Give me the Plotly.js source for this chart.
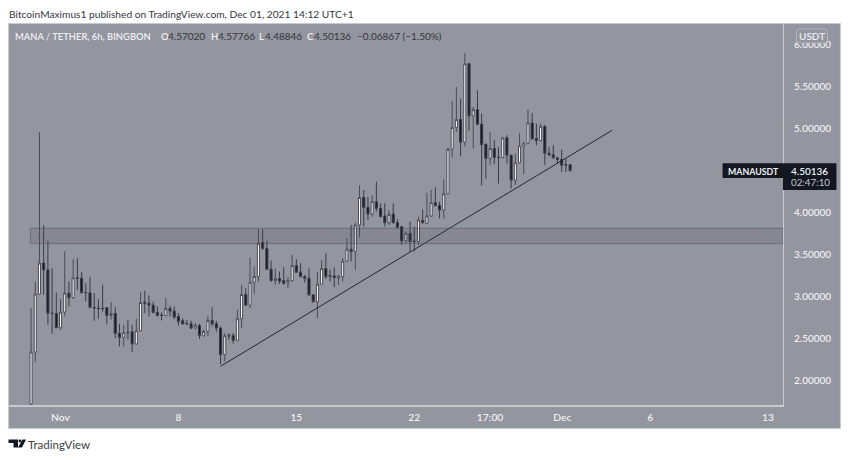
<!DOCTYPE html>
<html>
<head>
<meta charset="utf-8">
<script src="https://cdn.plot.ly/plotly-3.0.1.min.js"></script>
<style>html,body{margin:0;padding:0;background:#fff;overflow:hidden}#chart{width:850px;height:460px}</style>
</head>
<body>
<div id="chart"></div>
<script>
const opens = [1.72,2.34,3.03,3.40,3.318,2.803,2.80,2.629,2.815,3.041,2.985,3.223,3.219,3.049,3.045,2.870,2.863,2.859,2.867,2.775,2.799,2.562,2.514,2.574,2.582,2.435,2.593,2.934,2.922,2.898,2.811,2.780,2.775,2.859,2.827,2.764,2.712,2.680,2.676,2.625,2.657,2.538,2.585,2.716,2.676,2.625,2.308,2.538,2.534,2.479,2.736,3.025,2.898,3.171,3.239,3.643,3.571,3.326,3.191,3.215,3.191,3.160,3.191,3.369,3.290,3.239,3.219,3.021,2.938,3.148,3.334,3.251,3.247,3.219,3.239,3.421,3.564,3.536,3.853,4.181,4.062,3.983,4.130,4.051,3.960,3.880,3.983,3.880,3.833,3.663,3.754,3.663,3.655,3.908,3.872,3.959,4.118,4.086,4.030,4.224,4.755,5.012,5.108,4.838,5.773,5.151,5.226,5.052,4.814,4.644,4.763,4.660,4.656,4.890,4.684,4.387,4.593,4.791,4.826,5.068,4.882,4.858,5.028,4.708,4.688,4.652,4.632,4.569,4.57020];
const highs = [2.863,3.18,4.957,3.849,3.666,3.338,3.049,2.970,3.540,3.183,3.445,3.457,3.294,3.160,3.231,3.041,2.970,3.140,2.875,2.934,2.875,2.677,2.665,2.724,2.665,2.736,3.049,3.069,3.013,2.942,2.882,2.811,2.985,2.890,2.882,2.803,2.744,2.724,2.712,2.684,2.676,2.605,2.764,2.875,2.712,2.645,2.566,2.566,2.566,2.843,3.140,3.100,3.465,3.358,3.801,3.801,3.666,3.429,3.338,3.298,3.350,3.231,3.496,3.445,3.397,3.259,3.338,3.029,3.298,3.437,3.516,3.318,3.350,3.259,3.457,3.694,3.853,3.880,4.328,4.268,4.189,4.209,4.367,4.110,4.110,4.031,4.110,3.920,3.841,3.773,3.892,3.833,3.952,4.038,4.236,4.268,4.300,4.129,4.395,4.775,5.329,5.496,5.357,5.900,5.781,5.258,5.456,5.179,4.822,4.961,4.870,4.783,4.902,4.921,4.684,4.704,4.949,4.842,5.227,5.187,5.060,5.060,5.040,4.783,4.803,4.664,4.751,4.644,4.57766];
const lows = [1.60,2.22,3.021,3.021,2.665,2.558,2.625,2.605,2.764,2.882,2.977,3.080,3.033,2.942,2.863,2.712,2.736,2.823,2.676,2.724,2.506,2.407,2.407,2.487,2.340,2.427,2.585,2.803,2.764,2.803,2.764,2.716,2.764,2.764,2.732,2.657,2.665,2.665,2.613,2.613,2.494,2.518,2.526,2.645,2.58,2.197,2.229,2.486,2.439,2.467,2.625,2.890,2.863,3.033,3.179,3.556,3.318,3.179,3.140,3.152,3.140,3.100,3.183,3.286,3.231,3.168,3.009,2.930,2.744,3.140,3.207,3.179,3.112,3.140,3.179,3.413,3.417,3.318,3.706,3.833,3.912,3.952,4.011,3.944,3.833,3.853,3.872,3.813,3.615,3.643,3.536,3.536,3.615,3.872,3.864,3.951,4.082,3.931,3.931,4.217,4.656,4.961,4.672,4.791,4.973,4.763,5.040,4.323,4.403,4.565,4.577,4.347,4.644,4.585,4.288,4.327,4.585,4.458,4.814,4.870,4.803,4.850,4.565,4.672,4.644,4.585,4.486,4.486,4.48846];
const closes = [2.34,3.03,3.40,3.318,2.803,2.80,2.629,2.815,3.041,2.985,3.223,3.219,3.049,3.045,2.870,2.863,2.859,2.857,2.775,2.799,2.562,2.514,2.570,2.570,2.435,2.593,2.930,2.922,2.898,2.811,2.775,2.776,2.859,2.827,2.756,2.704,2.676,2.676,2.625,2.657,2.538,2.585,2.716,2.676,2.625,2.308,2.534,2.530,2.479,2.736,3.025,2.898,3.171,3.239,3.635,3.575,3.326,3.191,3.215,3.183,3.160,3.191,3.369,3.290,3.239,3.215,3.021,2.938,3.148,3.334,3.239,3.239,3.227,3.243,3.421,3.564,3.536,3.853,4.181,4.062,3.983,4.130,4.051,3.952,3.880,3.979,3.880,3.825,3.663,3.754,3.655,3.655,3.912,3.880,3.959,4.118,4.082,4.030,4.224,4.755,5.012,5.108,4.838,5.773,5.151,5.226,5.052,4.810,4.644,4.763,4.656,4.656,4.890,4.684,4.387,4.593,4.795,4.826,5.068,4.878,4.858,5.028,4.708,4.688,4.652,4.632,4.565,4.565,4.50136];

const firstBar = Date.UTC(2021, 9, 30, 11, 0);
const barTimes = opens.map((_, i) => new Date(firstBar + i * 6 * 3600e3).toISOString().slice(0, 16).replace('T', ' '));

const tickDates = ['2021-11-01 05:00','2021-11-08 05:00','2021-11-15 05:00','2021-11-22 05:00','2021-11-26 17:00','2021-12-01 00:00','2021-12-06 05:00','2021-12-13 05:00'];
const tickLabels = ['Nov','8','15','22','17:00','Dec','6','13'];
const priceTicks = [2,2.5,3,3.5,4,5,5.5,6];
const xRange = ['2021-10-29 03:36','2021-12-14 02:20'];
const yRange = [1.709,6.246];

const trendDates = ['2021-11-10 17:00','2021-12-03 23:00'];
const trendPrices = [2.170,4.981];
const zoneDates = ['2021-10-30 10:00','2021-12-14 02:20'];
const zonePrices = [3.631,3.814];

const L = 8.5, R = 783.5, T = 23.5, B = 405.5;
const px = v => (v - L) / (R - L);
const py = v => 1 - (v - T) / (B - T);
const bg = '#93959f', lightText = '#eeeff2', darkText = '#34363c', frame = '#c9cad0';
const fontFam = 'Lato, "Open Sans", sans-serif';

const rect = (x0,y0,x1,y1,fill,line,layer) => ({type:'rect',xref:'paper',yref:'paper',x0:px(x0),x1:px(x1),y0:py(y0),y1:py(y1),fillcolor:fill,line:line?{color:line,width:1}:{width:0},layer:layer||'above'});
const P = (x,y) => px(x).toFixed(5) + ',' + py(y).toFixed(5);
const poly = (pts,fill) => ({type:'path',xref:'paper',yref:'paper',path:'M'+pts.map(p=>P(p[0],p[1])).join('L')+'Z',fillcolor:fill,line:{width:0},layer:'above'});
const note = (x,y,text,color,size,weight,anchor) => ({xref:'paper',yref:'paper',x:px(x),y:py(y),text:text,showarrow:false,xanchor:anchor||'left',yanchor:'middle',align:'left',font:{family:fontFam,size:size,color:color,weight:weight||400},borderpad:0,borderwidth:0});

const shapes = [
  rect(8,23,841,429,bg,frame,'below'),
  {type:'rect',xref:'x',yref:'y',x0:zoneDates[0],x1:zoneDates[1],y0:zonePrices[0],y1:zonePrices[1],fillcolor:'rgba(72,72,82,0.17)',line:{color:'rgba(70,70,78,0.45)',width:1},layer:'above'},
  rect(723,163,783.5,178,'#131722',null),
  rect(783.5,163,837,190,'#131722',null),
  {type:'path',xref:'paper',yref:'paper',layer:'above',fillcolor:bg,line:{color:'#b4b5bc',width:1},
   path:'M'+P(800,28.5)+'L'+P(825,28.5)+'Q'+P(828,28.5)+' '+P(828,31.5)+'L'+P(828,39.5)+'Q'+P(828,42.5)+' '+P(825,42.5)+'L'+P(800,42.5)+'Q'+P(797,42.5)+' '+P(797,39.5)+'L'+P(797,31.5)+'Q'+P(797,28.5)+' '+P(800,28.5)+'Z'},
  poly([[8,440],[17.5,440],[17.5,448],[13,448],[13,443.5],[8,443.5]],'#131722'),
  poly([[22,440],[25.5,440],[21.5,448],[17.5,448]],'#131722'),
  {type:'circle',xref:'paper',yref:'paper',x0:px(18),x1:px(21),y0:py(443),y1:py(440),fillcolor:'#131722',line:{width:0},layer:'above'}
];

const annotations = [
  note(8,13,'BitcoinMaximus1 published on TradingView.com, Dec 01, 2021 14:12 UTC+1',darkText,10.2),
  note(15,36,'MANA / TETHER, 6h, BINGBON',lightText,9.4,600),
  note(161,36,'O',lightText,9.6,600), note(167.5,36,'4.57020',darkText,10),
  note(211,36,'H',lightText,9.6,600), note(217.5,36,'4.57766',darkText,10),
  note(259,36,'L',lightText,9.6,600), note(265,36,'4.48846',darkText,10),
  note(307,36,'C',lightText,9.6,600), note(314,36,'4.50136',darkText,10),
  note(357,36,'\u22120.06867 (\u22121.50%)',darkText,10),
  note(812.5,35.5,'USDT',lightText,10,600,'center'),
  note(728,171,'MANAUSDT',lightText,8.8,700),
  note(792,171,'4.50136',lightText,10,600),
  note(792,182,'02:47:10','#c6c8d0',9.8),
  note(28,445.5,'TradingView','#3a3c42',11.5)
];

const data = [
  {type:'candlestick',x:barTimes,open:opens,high:highs,low:lows,close:closes,
   increasing:{line:{color:'#4a4c56',width:1},fillcolor:'#ffffff'},
   decreasing:{line:{color:'#3a3c46',width:1},fillcolor:'#131722'},
   whiskerwidth:0,hoverinfo:'skip',showlegend:false},
  {type:'scatter',mode:'lines',x:trendDates,y:trendPrices,line:{color:'#26282f',width:1},hoverinfo:'skip',showlegend:false}
];

const layout = {
  width:850,height:460,
  paper_bgcolor:'#ffffff',plot_bgcolor:'rgba(0,0,0,0)',
  margin:{l:L,r:850-R,t:T,b:460-B,pad:0},
  showlegend:false,
  font:{family:fontFam},
  xaxis:{type:'date',range:xRange,rangeslider:{visible:false},showgrid:false,zeroline:false,
    tickmode:'array',tickvals:tickDates,ticktext:tickLabels,ticks:'',ticklabelstandoff:2,
    tickfont:{family:fontFam,size:10.3,color:lightText,weight:600},
    showline:true,linecolor:frame,linewidth:2,fixedrange:true},
  yaxis:{side:'right',range:yRange,showgrid:false,zeroline:false,
    tickmode:'array',tickvals:priceTicks,tickformat:'.5f',ticks:'',ticklabelstandoff:8,
    tickfont:{family:fontFam,size:10,color:lightText,weight:600},
    showline:true,linecolor:frame,linewidth:1,fixedrange:true},
  shapes,annotations
};
Plotly.newPlot('chart',data,layout,{staticPlot:true,displayModeBar:false});
</script>
</body>
</html>
